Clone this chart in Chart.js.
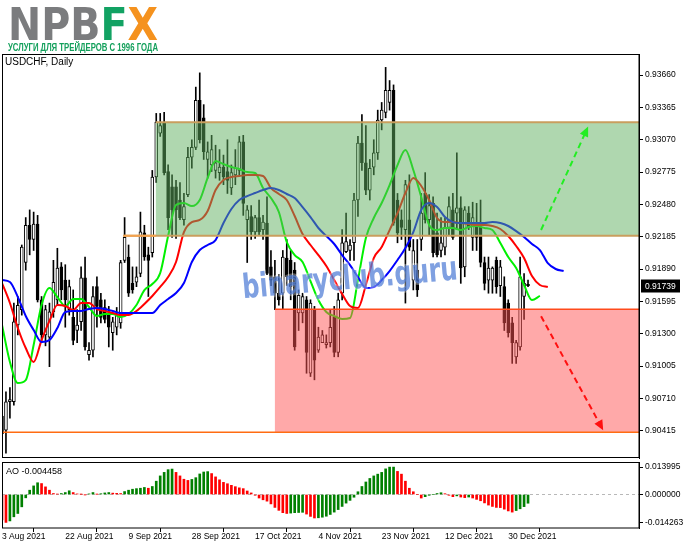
<!DOCTYPE html>
<html><head><meta charset="utf-8">
<script src="https://cdn.jsdelivr.net/npm/chart.js@4.4.0/dist/chart.umd.min.js"></script>
<style>
html,body{margin:0;padding:0;background:#fff;width:691px;height:549px;overflow:hidden}
canvas{position:absolute;left:0;top:0}
.t{position:absolute;white-space:nowrap;font-family:'Liberation Sans',Arial,sans-serif;color:#000;transform-origin:0 0}
</style></head><body>
<canvas id="main" width="691" height="549"></canvas>
<canvas id="ao" width="691" height="549"></canvas>
<div id="logo" class="t" style="left:8px;top:3px;font-family:'DejaVu Sans',sans-serif;font-size:44px;line-height:44px;font-weight:bold"><span style="color:#7b7c7e">NPB</span><span style="color:#12a263">F</span><span style="color:#f5921e">X</span></div>
<div id="sub" class="t" style="left:8px;top:41.5px;font-size:11px;line-height:11px;font-weight:bold;color:#14a05c">УСЛУГИ ДЛЯ ТРЕЙДЕРОВ С 1996 ГОДА</div>
<div class="t" style="left:5px;top:56px;font-size:10px;line-height:12px">USDCHF, Daily</div>
<div class="t" style="left:6px;top:465.5px;font-size:9px;line-height:11px">AO -0.004458</div>
<script>
// ---------------- DATA ----------------
const opens = [.9055,.9042,.9068,.9068,.9138,.9152,.9195,.9229,.9216,.9230,
.9161,.9129,.9127,.9150,.9161,.9191,.9179,.9152,.9145,.9133,
.9141,.9181,.9111,.9115,.9173,.9161,.9154,.9149,.9131,.9136,
.9140,.9197,.9200,.9176,.9177,.9185,.9222,.9202,.9204,.9273,
.9313,.9322,.9278,.9264,.9264,.9252,.9234,.9257,.9291,.9300,
.9343,.9327,.9289,.9284,.9279,.9277,.9282,.9278,.9263,.9275,
.9279,.9305,.9234,.9237,.9223,.9236,.9225,.9231,.9191,.9182,
.9167,.9167,.9199,.9197,.9188,.9149,.9149,.9161,.9094,.9152,
.9115,.9122,.9120,.9122,.9145,.9113,.9167,.9205,.9206,.9213,
.9252,.9304,.9286,.9261,.9282,.9295,.9325,.9332,.9341,.9352,
.9252,.9234,.9225,.9234,.9179,.9188,.9216,.9258,.9234,.9249,
.9222,.9206,.9209,.9227,.9243,.9240,.9245,.9191,.9240,.9218,
.9229,.9227,.9195,.9179,.9179,.9197,.9174,.9173,.9158,.9140,
.9109,.9118,.9164,.9175];
const highs = [.9061,.9077,.9081,.9158,.9164,.9211,.9236,.9243,.9241,.9238,
.9164,.9156,.9158,.9197,.9208,.9195,.9193,.9179,.9170,.9152,
.9191,.9200,.9122,.9173,.9182,.9167,.9161,.9155,.9145,.9154,
.9197,.9236,.9211,.9191,.9191,.9241,.9229,.9209,.9279,.9331,
.9331,.9332,.9284,.9275,.9270,.9268,.9258,.9300,.9307,.9355,
.9368,.9339,.9305,.9311,.9302,.9298,.9293,.9307,.9284,.9298,
.9310,.9311,.9247,.9247,.9238,.9252,.9238,.9255,.9206,.9197,
.9184,.9206,.9216,.9206,.9195,.9170,.9167,.9164,.9161,.9155,
.9136,.9133,.9129,.9152,.9155,.9167,.9225,.9240,.9216,.9258,
.9310,.9330,.9320,.9289,.9307,.9334,.9341,.9373,.9361,.9357,
.9258,.9243,.9270,.9275,.9216,.9216,.9258,.9277,.9257,.9255,
.9240,.9236,.9236,.9255,.9258,.9295,.9255,.9246,.9246,.9250,
.9249,.9252,.9200,.9200,.9191,.9200,.9197,.9182,.9161,.9145,
.9124,.9200,.9185,.9179];
const lows = [.9033,.9021,.9053,.9065,.9129,.9147,.9188,.9202,.9206,.9159,
.9122,.9119,.9100,.9145,.9156,.9161,.9136,.9147,.9120,.9122,
.9133,.9115,.9106,.9109,.9136,.9140,.9140,.9118,.9115,.9129,
.9135,.9195,.9164,.9167,.9173,.9182,.9197,.9164,.9200,.9268,
.9310,.9275,.9225,.9218,.9217,.9234,.9229,.9255,.9281,.9298,
.9304,.9289,.9272,.9278,.9272,.9270,.9266,.9258,.9257,.9266,
.9275,.9238,.9195,.9216,.9217,.9220,.9216,.9184,.9174,.9152,
.9156,.9152,.9174,.9161,.9115,.9133,.9140,.9094,.9091,.9088,
.9113,.9122,.9117,.9118,.9109,.9109,.9161,.9204,.9197,.9197,
.9237,.9279,.9257,.9252,.9275,.9289,.9316,.9327,.9334,.9229,
.9213,.9216,.9158,.9206,.9170,.9164,.9206,.9231,.9220,.9200,
.9200,.9200,.9202,.9220,.9216,.9225,.9176,.9182,.9225,.9206,
.9206,.9191,.9170,.9167,.9167,.9167,.9164,.9133,.9127,.9103,
.9103,.9115,.9143,.9173];
const closes = [.9039,.9068,.9070,.9141,.9156,.9209,.9229,.9216,.9230,.9161,
.9129,.9152,.9150,.9177,.9190,.9170,.9161,.9173,.9124,.9138,
.9181,.9118,.9115,.9164,.9155,.9145,.9143,.9136,.9141,.9147,
.9195,.9218,.9167,.9170,.9182,.9223,.9200,.9197,.9273,.9323,
.9320,.9277,.9236,.9243,.9243,.9236,.9246,.9291,.9300,.9343,
.9307,.9296,.9296,.9298,.9286,.9282,.9273,.9270,.9277,.9281,
.9305,.9249,.9243,.9223,.9236,.9223,.9232,.9185,.9179,.9167,
.9161,.9200,.9182,.9173,.9118,.9165,.9164,.9113,.9158,.9106,
.9127,.9129,.9122,.9136,.9113,.9161,.9213,.9214,.9211,.9252,
.9304,.9286,.9261,.9281,.9295,.9325,.9334,.9352,.9352,.9231,
.9222,.9227,.9266,.9209,.9206,.9170,.9240,.9234,.9247,.9204,
.9202,.9213,.9227,.9246,.9218,.9245,.9190,.9243,.9227,.9236,
.9218,.9195,.9176,.9190,.9190,.9173,.9191,.9140,.9131,.9122,
.9122,.9182,.9176,.91739];

// Alligator lines, read every 2 bars starting at bar 0
const jawValues = [.91790,.91772,.91635,.91462,.91334,.91225,.91243,.91353,.91499,.91508,
.91508,.91526,.91535,.91526,.91508,.91489,.91489,.91489,.91489,.91489,
.91562,.91617,.91672,.91763,.91955,.92064,.92110,.92155,.92310,.92438,
.92520,.92556,.92584,.92611,.92629,.92611,.92575,.92538,.92456,.92365,
.92265,.92192,.92119,.92018,.91927,.91818,.91717,.91726,.91790,.91872,
.91973,.92082,.92228,.92429,.92493,.92456,.92365,.92319,.92310,.92310,
.92310,.92310,.92319,.92310,.92283,.92237,.92183,.92119,.92064,.91945,
.91891,.91872];
const teethValues = [.91763,.91581,.91353,.91170,.91043,.91243,.91417,.91562,.91553,.91517,
.91581,.91581,.91526,.91508,.91489,.91471,.91471,.91508,.91572,.91645,
.91727,.91818,.91955,.92228,.92319,.92338,.92420,.92611,.92702,.92730,
.92739,.92748,.92748,.92739,.92629,.92575,.92520,.92374,.92210,.92110,
.92018,.91918,.91790,.91663,.91553,.91535,.91745,.91991,.92091,.92246,
.92401,.92584,.92721,.92648,.92520,.92356,.92319,.92319,.92310,.92301,
.92292,.92292,.92283,.92256,.92192,.92101,.91991,.91827,.91745,.91727];
const lipsValues = [.91380,.91043,.90851,.90878,.91198,.91562,.91717,.91635,.91553,.91617,
.91617,.91544,.91462,.91480,.91480,.91453,.91480,.91562,.91699,.91754,
.91854,.92192,.92474,.92493,.92465,.92520,.92721,.92876,.92848,.92821,
.92803,.92775,.92766,.92629,.92538,.92411,.92137,.92018,.91955,.91781,
.91608,.91499,.91462,.91435,.91444,.91790,.92173,.92356,.92493,.92657,
.92839,.92976,.92794,.92547,.92292,.92246,.92265,.92265,.92246,.92274,
.92283,.92265,.92246,.92128,.92000,.91900,.91745,.91608,.91645];

const aoValues = [-0.0130,-0.014263,-0.0135,-0.0114,-0.0097,-0.0063,-0.0017,0.0022,0.0044,0.0060,
0.0056,0.0039,0.0022,0.0005,0.0002,0.0005,0.0010,0.0019,0.0010,0.0003,
0.0001,-0.0001,0.0003,0.0010,0.0001,0.0004,0.0008,0.0010,0.0007,0.0006,
0.0005,0.0015,0.0022,0.0027,0.0030,0.0032,0.0036,0.0032,0.0041,0.0068,
0.0095,0.0113,0.0127,0.0130,0.0113,0.0095,0.0078,0.0072,0.0077,0.0086,
0.0105,0.0115,0.0117,0.0107,0.0090,0.0075,0.0062,0.0055,0.0047,0.0040,
0.0034,0.0030,0.0018,0.0008,-0.0004,-0.0018,-0.0027,-0.0034,-0.0048,-0.0066,
-0.0081,-0.0093,-0.0097,-0.0095,-0.0093,-0.0092,-0.0091,-0.0100,-0.0112,-0.0120,
-0.0119,-0.0116,-0.0111,-0.0102,-0.0090,-0.0077,-0.0061,-0.0044,-0.0030,-0.0014,
0.0014,0.0041,0.0064,0.0082,0.0095,0.0104,0.0113,0.0131,0.013995,0.0140,
0.0118,0.0104,0.0068,0.0032,0.0014,0.0000,-0.0018,-0.0011,-0.0004,0.0000,
0.0005,0.0009,0.0004,-0.0004,-0.0011,-0.0007,-0.0013,-0.0016,-0.0013,-0.0018,
-0.0025,-0.0032,-0.0043,-0.0054,-0.0061,-0.0066,-0.0067,-0.0075,-0.0084,-0.0090,
-0.0082,-0.0073,-0.0062,-0.004458];

const priceTicks = [0.93660,0.93365,0.93070,0.92775,0.92480,0.92185,0.91890,0.91595,0.91300,0.91005,0.90710,0.90415];
const aoTicks = [0.013995, 0, -0.014263];
const xTickBars = [0,16,32,48,64,80,96,112,128];
const MONTHS = ['Jan','Feb','Mar','Apr','May','Jun','Jul','Aug','Sep','Oct','Nov','Dec'];

// Zones: [start bar, top price, bottom price]
const greenZone = [38.9, 0.93229, 0.92194];
const redZone = [69.0, 0.91523, 0.90401];
const levelPrices = [0.93229, 0.92194, 0.91523, 0.90401];
const levelStartBars = [38.9, 30.7, 69.0, 0];
const greenArrow = [[136.3, 0.92247], [148.2, 0.93190]];
const redArrow = [[136.3, 0.91460], [152.0, 0.90420]];
const watermark = [88, 0.91790];

// ---------------- BUILD ----------------
const dateLabels = [];
for (let d = new Date(Date.UTC(2021,7,3)); dateLabels.length < opens.length; d.setUTCDate(d.getUTCDate()+1)) {
  if (d.getUTCDay() === 6) continue;
  dateLabels.push(d.getUTCDate() + ' ' + MONTHS[d.getUTCMonth()] + ' ' + d.getUTCFullYear());
}

const FONT = "'Liberation Sans', Arial, sans-serif";
Chart.defaults.font.family = FONT;
Chart.defaults.color = '#000';
const XMAX = 161.06;
const Y_MIN = 0.90167, Y_MAX = 0.93852;
const AO_MIN = -0.017118, AO_MAX = 0.016607;

const bodies = opens.map((o,i) => {
  const c = closes[i];
  let lo = Math.min(o,c), hi = Math.max(o,c);
  if (hi - lo < 0.00009) { const m = (hi+lo)/2; lo = m - 0.000045; hi = m + 0.000045; }
  return {x:i, y:[lo,hi]};
});
const bodyColors = opens.map((o,i) => closes[i] >= o ? '#ffffff' : '#000000');
const wicks = highs.map((h,i) => ({x:i, y:[lows[i], h]}));
const toLine = arr => arr.map((v,k) => ({x:k*2, y:v}));
const lineDs = (arr, color) => ({type:'line', data:toLine(arr), borderColor:color, borderWidth:2, pointRadius:0, cubicInterpolationMode:'monotone', order:0});

const mainPlugin = {
  id:'mainOverlay',
  afterDatasetsDraw(chart) {
    const {ctx, chartArea:a, scales:{x, y}} = chart;
    ctx.save();
    ctx.beginPath(); ctx.rect(a.left, a.top, a.right-a.left, a.bottom-a.top); ctx.clip();
    const zone = (z, col) => {
      const x0 = x.getPixelForValue(z[0]), y0 = y.getPixelForValue(z[1]), y1 = y.getPixelForValue(z[2]);
      ctx.fillStyle = col; ctx.fillRect(x0, y0, a.right - x0, y1 - y0);
    };
    zone(greenZone, 'rgba(96,176,96,0.5)');
    zone(redZone, 'rgba(255,84,84,0.5)');
    const lvlColors = ['#c99e5e', '#c99e5e', '#ff4a1c', '#ff6c12'];
    const lvlWidths = [2, 2, 1.5, 1.5];
    levelPrices.forEach((p,k) => {
      const yy = y.getPixelForValue(p);
      ctx.strokeStyle = lvlColors[k]; ctx.lineWidth = lvlWidths[k];
      ctx.beginPath(); ctx.moveTo(x.getPixelForValue(levelStartBars[k]), yy); ctx.lineTo(a.right, yy); ctx.stroke();
    });
    {
      const yy = y.getPixelForValue(levelPrices[1]);
      ctx.strokeStyle = '#f4a24e'; ctx.lineWidth = 2;
      ctx.beginPath(); ctx.moveTo(x.getPixelForValue(levelStartBars[1]), yy); ctx.lineTo(x.getPixelForValue(greenZone[0]), yy); ctx.stroke();
    }
    const arrow = (pts, col) => {
      const x0 = x.getPixelForValue(pts[0][0]), y0 = y.getPixelForValue(pts[0][1]);
      const x1 = x.getPixelForValue(pts[1][0]), y1 = y.getPixelForValue(pts[1][1]);
      const ang = Math.atan2(y1-y0, x1-x0);
      ctx.strokeStyle = col; ctx.fillStyle = col; ctx.lineWidth = 2; ctx.setLineDash([6,4]);
      ctx.beginPath(); ctx.moveTo(x0,y0); ctx.lineTo(x1 - 6*Math.cos(ang), y1 - 6*Math.sin(ang)); ctx.stroke();
      ctx.setLineDash([]);
      ctx.beginPath();
      ctx.moveTo(x1, y1);
      ctx.lineTo(x1 - 10*Math.cos(ang) + 4.5*Math.sin(ang), y1 - 10*Math.sin(ang) - 4.5*Math.cos(ang));
      ctx.lineTo(x1 - 10*Math.cos(ang) - 4.5*Math.sin(ang), y1 - 10*Math.sin(ang) + 4.5*Math.cos(ang));
      ctx.closePath(); ctx.fill();
    };
    arrow(greenArrow, '#22ee22');
    arrow(redArrow, '#ff1010');
    // watermark
    ctx.save();
    ctx.translate(x.getPixelForValue(watermark[0]), y.getPixelForValue(watermark[1]));
    ctx.rotate(-5 * Math.PI / 180);
    ctx.font = "bold 30px 'DejaVu Sans', sans-serif";
    const w = ctx.measureText('binaryclub.guru').width;
    ctx.scale(216 / w, 1.12);
    ctx.textAlign = 'center'; ctx.textBaseline = 'middle';
    ctx.lineJoin = 'round';
    ctx.strokeStyle = 'rgba(255,255,255,0.35)'; ctx.lineWidth = 3;
    ctx.strokeText('binaryclub.guru', 0, 0);
    ctx.fillStyle = 'rgba(78,124,214,0.72)';
    ctx.fillText('binaryclub.guru', 0, 0);
    ctx.restore();
    ctx.restore();
  },
  afterDraw(chart) {
    const {ctx, chartArea:a, scales:{y}} = chart;
    ctx.save();
    ctx.strokeStyle = '#000'; ctx.lineWidth = 1;
    ctx.strokeRect(a.left + 0.5, a.top + 0.5, a.right - a.left - 0.5, a.bottom - a.top - 1);
    const yy = y.getPixelForValue(closes[closes.length-1]);
    ctx.fillStyle = '#000'; ctx.fillRect(a.right + 2, Math.round(yy) - 6.5, 39, 13);
    ctx.fillStyle = '#fff'; ctx.font = '8.5px ' + FONT; ctx.textBaseline = 'middle'; ctx.textAlign = 'left';
    ctx.fillText(closes[closes.length-1].toFixed(5), a.right + 6, Math.round(yy) + 0.5);
    ctx.restore();
  }
};

new Chart(document.getElementById('main'), {
  type:'bar',
  data:{datasets:[
    lineDs(jawValues, '#0000ff'),
    lineDs(teethValues, '#ff0000'),
    lineDs(lipsValues, '#00f000'),
    {data:bodies, backgroundColor:bodyColors, borderColor:'#000', borderWidth:1, borderSkipped:false, barThickness:3, grouped:false, order:1},
    {data:wicks, backgroundColor:'#000', borderWidth:0, barThickness:1, grouped:false, order:2}
  ]},
  options:{
    responsive:false, animation:false, devicePixelRatio:1, events:[],
    layout:{padding:{left:2, top:54, right:0, bottom:91}},
    plugins:{legend:{display:false}, tooltip:{enabled:false}},
    scales:{
      x:{type:'linear', display:false, min:0, max:XMAX, offset:false},
      y:{position:'right', min:Y_MIN, max:Y_MAX,
         afterBuildTicks:s => { s.ticks = priceTicks.map(v => ({value:v})); },
         afterFit:s => { s.width = 52; },
         ticks:{padding:2, font:{size:8.5}, color:'#000', callback:v => Number(v).toFixed(5)},
         grid:{drawOnChartArea:false, drawTicks:true, tickLength:4, color:'#000'},
         border:{display:true, color:'#000'}}
    }
  },
  plugins:[mainPlugin]
});

const aoColors = aoValues.map((v,i) => (i > 0 && v > aoValues[i-1]) ? '#008000' : '#ff0000');
const aoPlugin = {
  id:'aoDeco',
  beforeDatasetsDraw(chart) {
    const {ctx, chartArea:a, scales:{y}} = chart;
    const y0 = Math.round(y.getPixelForValue(0)) + 0.5;
    ctx.save(); ctx.strokeStyle = '#b8b8b8'; ctx.lineWidth = 1; ctx.setLineDash([3,3]);
    ctx.beginPath(); ctx.moveTo(a.left, y0); ctx.lineTo(a.right, y0); ctx.stroke(); ctx.restore();
  },
  afterDraw(chart) {
    const {ctx, chartArea:a} = chart;
    ctx.save(); ctx.strokeStyle = '#000'; ctx.lineWidth = 1;
    ctx.strokeRect(a.left + 0.5, a.top + 0.5, a.right - a.left - 0.5, a.bottom - a.top - 0.5);
    ctx.restore();
  }
};

new Chart(document.getElementById('ao'), {
  type:'bar',
  data:{datasets:[{data:aoValues.map((v,i) => ({x:i, y:v})), backgroundColor:aoColors, borderWidth:0, barThickness:2, grouped:false}]},
  options:{
    responsive:false, animation:false, devicePixelRatio:1, events:[],
    layout:{padding:{left:2, top:462, right:0, bottom:0}},
    plugins:{legend:{display:false}, tooltip:{enabled:false}},
    scales:{
      x:{type:'linear', min:0, max:XMAX, offset:false,
         afterBuildTicks:s => { s.ticks = xTickBars.map(v => ({value:v})); },
         afterFit:s => { s.height = 21; },
         ticks:{align:'start', autoSkip:false, maxRotation:0, minRotation:0, padding:0, font:{size:8.5}, color:'#000',
                callback:v => dateLabels[Math.round(v)] || ''},
         grid:{drawOnChartArea:false, drawTicks:true, tickLength:4, color:'#000'},
         border:{display:false}},
      y:{position:'right', min:AO_MIN, max:AO_MAX,
         afterBuildTicks:s => { s.ticks = aoTicks.map(v => ({value:v})); },
         afterFit:s => { s.width = 52; },
         ticks:{padding:2, font:{size:8.5}, color:'#000', callback:v => Number(v).toFixed(6)},
         grid:{drawOnChartArea:false, drawTicks:true, tickLength:4, color:'#000'},
         border:{display:true, color:'#000'}}
    }
  },
  plugins:[aoPlugin]
});

const fit = (id, w) => { const el = document.getElementById(id); const r = el.getBoundingClientRect().width; el.style.transform = 'scaleX(' + (w / r) + ')'; };
fit('logo', 150);
fit('sub', 150);
</script>
</body></html>
